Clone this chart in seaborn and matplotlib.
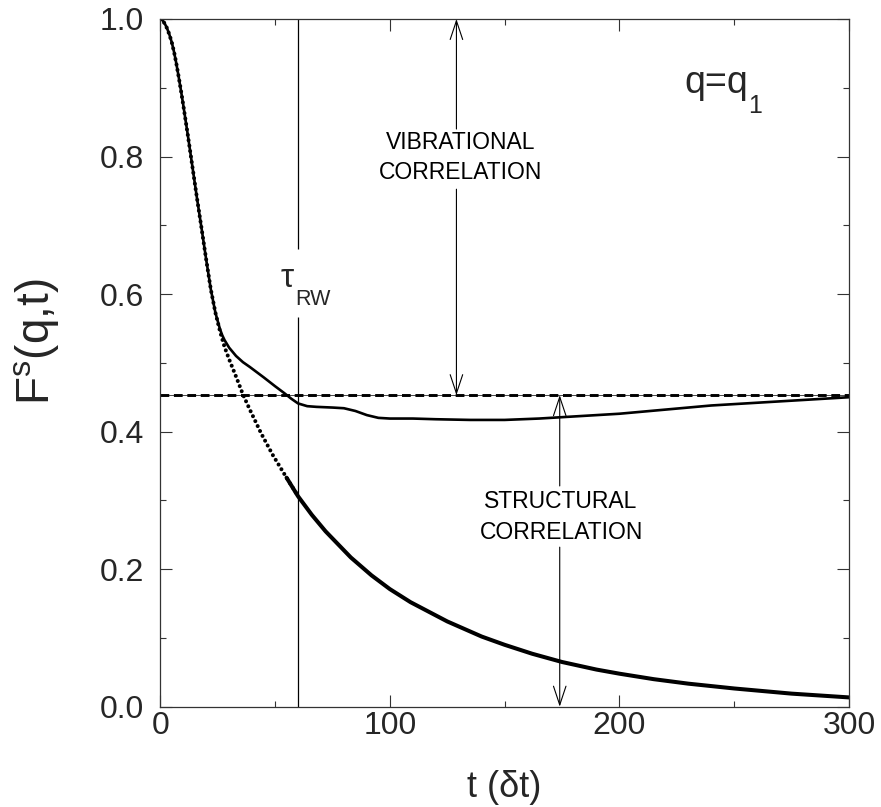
import numpy as np
import pandas as pd
import matplotlib
matplotlib.use("Agg")
import matplotlib.pyplot as plt
import seaborn as sns

# ---------------- data ----------------
# structural part (dotted curve)
t_struct = [0, 1, 2, 3, 4, 5, 6, 7, 8, 9, 10, 11, 12, 13, 14, 15, 16, 18, 20, 22,
            24, 26, 28, 30, 33, 36, 39, 44, 49, 55, 60, 66, 72, 83, 92, 100, 109,
            125, 140, 150, 162, 175, 190, 200, 215, 230, 250, 275, 300]
f_struct = [1.000, 0.998, 0.993, 0.986, 0.977, 0.966, 0.952, 0.935, 0.916, 0.896,
            0.875, 0.853, 0.831, 0.808, 0.785, 0.762, 0.739, 0.695, 0.650, 0.607,
            0.573, 0.546, 0.523, 0.505, 0.480, 0.454, 0.432, 0.397, 0.366, 0.333,
            0.306, 0.279, 0.255, 0.217, 0.191, 0.171, 0.152, 0.124, 0.102, 0.090,
            0.077, 0.065, 0.054, 0.048, 0.040, 0.0335, 0.0265, 0.019, 0.0135]

# full self intermediate scattering function (solid curve)
t_full = [0, 1, 2, 3, 4, 5, 6, 7, 8, 9, 10, 11, 12, 13, 14, 15, 16, 18, 20, 22,
          24, 26, 27, 28, 30, 33, 36, 39, 45, 50, 54, 57, 60, 64, 68, 75, 80, 85,
          90, 95, 100, 110, 120, 135, 150, 165, 180, 200, 220, 240, 260, 280, 300]
f_full = [1.000, 0.998, 0.993, 0.986, 0.977, 0.966, 0.952, 0.935, 0.916, 0.896,
          0.875, 0.853, 0.831, 0.808, 0.785, 0.762, 0.739, 0.695, 0.650, 0.607,
          0.573, 0.549, 0.540, 0.533, 0.522, 0.510, 0.501, 0.494, 0.479, 0.466,
          0.456, 0.448, 0.441, 0.437, 0.436, 0.435, 0.434, 0.430, 0.424, 0.420,
          0.419, 0.419, 0.418, 0.417, 0.417, 0.419, 0.422, 0.426, 0.432, 0.438,
          0.442, 0.446, 0.450]

plateau = 0.453          # dashed level
tau_rw = 60              # vertical marker
t_vib_arrow = 129
t_str_arrow = 174

x_ticks = [0, 100, 200, 300]
y_ticks = [0.0, 0.2, 0.4, 0.6, 0.8, 1.0]
y_ticklabels = ["0.0", "0.2", "0.4", "0.6", "0.8", "1.0"]

# ---------------- style ----------------
sns.set_theme(style="ticks")
plt.rcParams["font.family"] = ["Liberation Sans", "DejaVu Sans"]
plt.rcParams["mathtext.fontset"] = "custom"
plt.rcParams["mathtext.rm"] = "Liberation Sans"
plt.rcParams["mathtext.it"] = "Liberation Sans:italic"
plt.rcParams["mathtext.bf"] = "Liberation Sans:bold"

fig = plt.figure(figsize=(8.81, 8.07), dpi=100)
ax = fig.add_axes([0.18195, 0.12429, 0.7817, 0.85217])

df_struct = pd.DataFrame({"t": t_struct, "F": f_struct})
df_full = pd.DataFrame({"t": t_full, "F": f_full})

# dashed plateau line (thin line + thick dashes)
df_plat = pd.DataFrame({"t": [0, 300], "F": [plateau, plateau]})
sns.lineplot(data=df_plat, x="t", y="F", ax=ax, color="black", lw=0.5,
             estimator=None, sort=False)
sns.lineplot(data=df_plat, x="t", y="F", ax=ax, color="black", lw=2.1,
             linestyle=(0, (3.0, 1.6)), estimator=None, sort=False)

# full curve (solid)
sns.lineplot(data=df_full, x="t", y="F", ax=ax, color="black", lw=1.9,
             estimator=None, sort=False)

# structural curve: dotted where points are spread, thick where they merge
early = df_struct[df_struct["t"] <= 60]
late = df_struct[df_struct["t"] >= 55]
sns.lineplot(data=early, x="t", y="F", ax=ax, color="black", lw=2.9,
             linestyle=(0, (0.01, 1.35)), dash_capstyle="round",
             estimator=None, sort=False)
sns.lineplot(data=late, x="t", y="F", ax=ax, color="black", lw=2.9,
             estimator=None, sort=False, solid_capstyle="round")

# vertical tau_RW line, interrupted by its label
ax.vlines([tau_rw, tau_rw], [0.0, 0.665], [0.567, 1.0], color="black", lw=0.9)

# arrows
arrow_kw = dict(arrowstyle="->,head_length=0.9,head_width=0.3", lw=0.8,
                color="black", mutation_scale=15, shrinkA=0, shrinkB=0)
ax.annotate("", xy=(t_vib_arrow, 1.0), xytext=(t_vib_arrow, 0.840), arrowprops=arrow_kw)
ax.annotate("", xy=(t_vib_arrow, plateau), xytext=(t_vib_arrow, 0.7525), arrowprops=arrow_kw)
ax.annotate("", xy=(t_str_arrow, plateau), xytext=(t_str_arrow, 0.321), arrowprops=arrow_kw)
ax.annotate("", xy=(t_str_arrow, 0.0), xytext=(t_str_arrow, 0.232), arrowprops=arrow_kw)

# annotations
txt_kw = dict(ha="center", va="center", fontsize=16.5, color="black")
ax.text(131, 0.820, "VIBRATIONAL", **txt_kw)
ax.text(131, 0.7765, "CORRELATION", **txt_kw)
ax.text(174.5, 0.299, "STRUCTURAL", **txt_kw)
ax.text(174.8, 0.254, "CORRELATION", **txt_kw)

ax.text(55.4, 0.611, "τ", ha="center", va="baseline", fontsize=24)
ax.text(66.7, 0.584, "RW", ha="center", va="baseline", fontsize=15.5)

ax.text(242, 0.892, "q=q", ha="center", va="baseline", fontsize=27)
ax.text(259, 0.8633, "1", ha="center", va="baseline", fontsize=18)

# axes
ax.set_xlim(0, 300)
ax.set_ylim(0, 1.0)
ax.set_xticks(x_ticks)
ax.set_xticklabels([str(v) for v in x_ticks])
ax.set_yticks(y_ticks)
ax.set_yticklabels(y_ticklabels)
ax.set_xticks([50, 150, 250], minor=True)
ax.set_yticks([0.1, 0.3, 0.5, 0.7, 0.9], minor=True)
ax.tick_params(which="both", direction="in", top=True, right=True,
               color="#333333", width=0.8)
ax.tick_params(which="major", length=8.6)
ax.tick_params(which="minor", length=4.3)
ax.tick_params(axis="y", which="major", labelsize=23, pad=12)
ax.tick_params(axis="x", which="major", labelsize=23, pad=3)
for sp in ax.spines.values():
    sp.set_visible(True)
    sp.set_color("#333333")
    sp.set_linewidth(0.9)

ax.set_xlabel("t (δt)", fontsize=26)
ax.set_ylabel(r"F$^{\mathrm{s}}$(q,t)", fontsize=33)
ax.xaxis.set_label_coords(0.5, -0.1168)
ax.xaxis.label.set_va("center")
ax.yaxis.set_label_coords(-0.18, 0.53)
ax.yaxis.label.set_va("center")

fig.savefig("out.png", dpi=100)
